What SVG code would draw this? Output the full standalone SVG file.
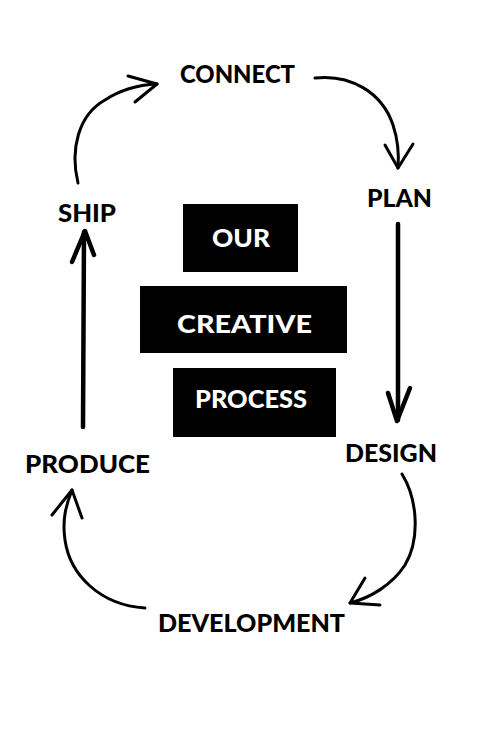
<svg xmlns="http://www.w3.org/2000/svg" width="500" height="750" viewBox="0 0 500 750">
<style>
.lbl{font-family:Lato,"Open Sans","Liberation Sans",sans-serif;font-weight:900;font-size:25px;fill:#000}
.ttl{font-family:Lato,"Open Sans","Liberation Sans",sans-serif;font-weight:900;font-size:25px;fill:#fff}
.box{fill:#000}
.c{fill:none;stroke:#000;stroke-width:3;stroke-linecap:round;stroke-linejoin:round}
.s{fill:none;stroke:#000;stroke-width:4.5;stroke-linecap:round;stroke-linejoin:round}
</style>
<rect width="500" height="750" fill="#fff"/>
<g id="connectors">
<path class="c" d="M315,78 C350,74 382,92 393,125 C398,140 399,155 398,168"/>
<path class="c" d="M385,145 L398,168 L413,144"/>
<path class="s" d="M398,224 L398,420"/>
<path class="s" d="M388,393 L397,421 L410,388"/>
<path class="c" d="M402,474 C418,500 420,540 405,565 C392,585 370,598 350,603"/>
<path class="c" d="M365,578 L350,603 L380,605"/>
<path class="c" d="M145,608 C100,605 70,575 65,540 C62,520 66,505 72,490"/>
<path class="c" d="M52,515 L72,490 L82,518"/>
<path class="s" d="M83,427 L84,232"/>
<path class="s" d="M72,262 L85,231 L94,255"/>
<path class="c" d="M78,183 C70,150 78,115 105,100 C120,90 138,85 157,84"/>
<path class="c" d="M128,76 L157,84 L135,102"/>
</g>
<g id="title-our"><rect class="box" x="183" y="204" width="115" height="68"/><text class="ttl" x="212" y="247" textLength="58" lengthAdjust="spacingAndGlyphs">OUR</text></g>
<g id="title-creative"><rect class="box" x="140" y="286" width="207" height="67"/><text class="ttl" x="177" y="333" textLength="135" lengthAdjust="spacingAndGlyphs">CREATIVE</text></g>
<g id="title-process"><rect class="box" x="173" y="368" width="163" height="69"/><text class="ttl" x="195" y="408" textLength="112" lengthAdjust="spacingAndGlyphs">PROCESS</text></g>
<g id="connect"><text class="lbl" x="180" y="83" textLength="115" lengthAdjust="spacingAndGlyphs">CONNECT</text></g>
<g id="plan"><text class="lbl" x="367" y="207" textLength="65" lengthAdjust="spacingAndGlyphs">PLAN</text></g>
<g id="design"><text class="lbl" x="345" y="462" textLength="92" lengthAdjust="spacingAndGlyphs">DESIGN</text></g>
<g id="development"><text class="lbl" x="158" y="632" textLength="187" lengthAdjust="spacingAndGlyphs">DEVELOPMENT</text></g>
<g id="produce"><text class="lbl" x="25" y="473" textLength="125" lengthAdjust="spacingAndGlyphs">PRODUCE</text></g>
<g id="ship"><text class="lbl" x="58" y="222" textLength="58" lengthAdjust="spacingAndGlyphs">SHIP</text></g>
</svg>
